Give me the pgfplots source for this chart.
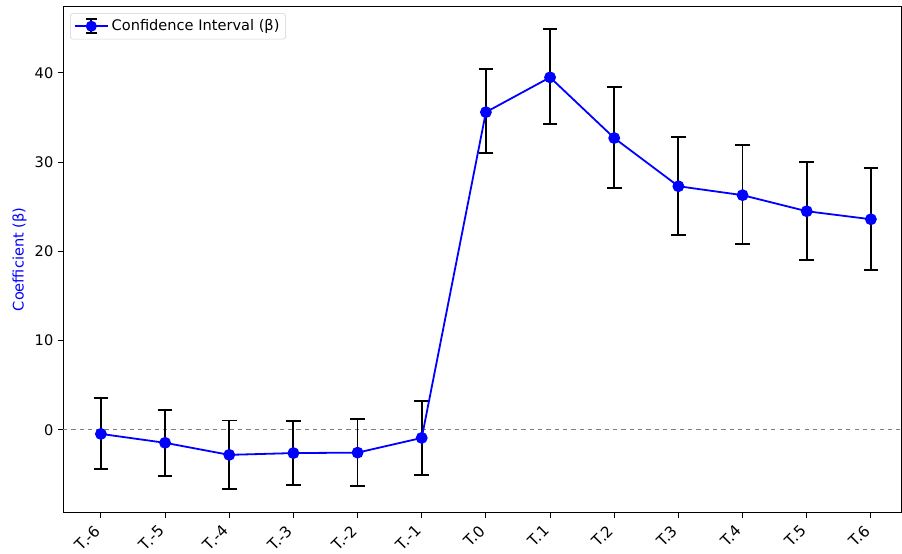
\documentclass[border=0pt]{standalone}
\usepackage{fontspec}
\setmainfont{DejaVu Sans}
\usepackage{pgfplots}
\usepackage{pgfplotstable}
\usetikzlibrary{calc}
\pgfplotsset{compat=1.18}
\pgfplotstableread{
x y ep em
0 -0.45 4.05 3.95
1 -1.45 3.7 3.7
2 -2.8 3.85 3.8
3 -2.6 3.6 3.6
4 -2.55 3.75 3.75
5 -0.9 4.15 4.2
6 35.6 4.8 4.6
7 39.5 5.4 5.2
8 32.7 5.7 5.6
9 27.3 5.5 5.5
10 26.3 5.6 5.5
11 24.5 5.5 5.5
12 23.6 5.7 5.7
}\datatable
\begin{document}
\begin{tikzpicture}
\begin{axis}[
  scale only axis,
  width=603.4pt, height=365pt,
  xmin=-0.59, xmax=12.47,
  ymin=-9.3, ymax=47.5,
  xtick={0,...,12},
  xticklabels={T.-6,T.-5,T.-4,T.-3,T.-2,T.-1,T.0,T.1,T.2,T.3,T.4,T.5,T.6},
  xticklabel style={xshift=-5.5pt, yshift=-3pt, rotate=45, anchor=north east, inner sep=1pt, font=\fontsize{11}{12}\selectfont},
  ytick={0,10,20,30,40},
  tick align=outside,
  tick pos=left,
  major tick length=3.5pt,
  every tick/.style={black, line width=0.6pt},
  axis line style={line width=0.6pt},
  /pgf/number format/assume math mode=true,
  yticklabel style={font=\fontsize{10.5}{12}\selectfont},
  ylabel={Coefficient (β)},
  every axis y label/.style={at={(axis description cs:-0.052,0.5)}, rotate=90, anchor=center},
  ylabel style={font=\fontsize{10.5}{12}\selectfont, text=blue},
  legend style={font=\fontsize{10.5}{12}\selectfont, draw=gray!35, rounded corners=2pt, inner sep=2.5pt, at={(0.0083,0.986)}, anchor=north west},
  legend cell align=left,
  clip=false,
]
\addplot[gray, dashed, line width=0.6pt, forget plot] coordinates {(-0.59,0) (12.47,0)};
\addplot[draw=none, mark=none, forget plot,
  error bars/.cd, y dir=both, y explicit,
  error bar style={black, line width=1.3pt},
  error mark options={rotate=90, black, mark size=5.3pt, line width=1.3pt}]
  table[x=x, y=y, y error plus=ep, y error minus=em] {\datatable};
\addplot[blue, line width=1.3pt, mark=*, mark size=3.6pt, mark options={fill=blue, draw=blue},
  legend image code/.code={
    \draw[blue, line width=1.3pt] (0pt,0pt) -- (24pt,0pt);
    \draw[black, line width=1.2pt] (12pt,-5pt) -- (12pt,5pt);
    \draw[black, line width=1.2pt] (8pt,-5pt) -- (16pt,-5pt);
    \draw[black, line width=1.2pt] (8pt,5pt) -- (16pt,5pt);
    \fill[blue] (12pt,0pt) circle (3.3pt);
  }]
  table[x=x, y=y] {\datatable};
\addlegendentry{Confidence Interval (β)}
\end{axis}
\pgfresetboundingbox
\path ($(current axis.south west)+(-45.4pt,-29.5pt)$) rectangle ($(current axis.north east)+(0.7pt,4.3pt)$);
\end{tikzpicture}
\end{document}
